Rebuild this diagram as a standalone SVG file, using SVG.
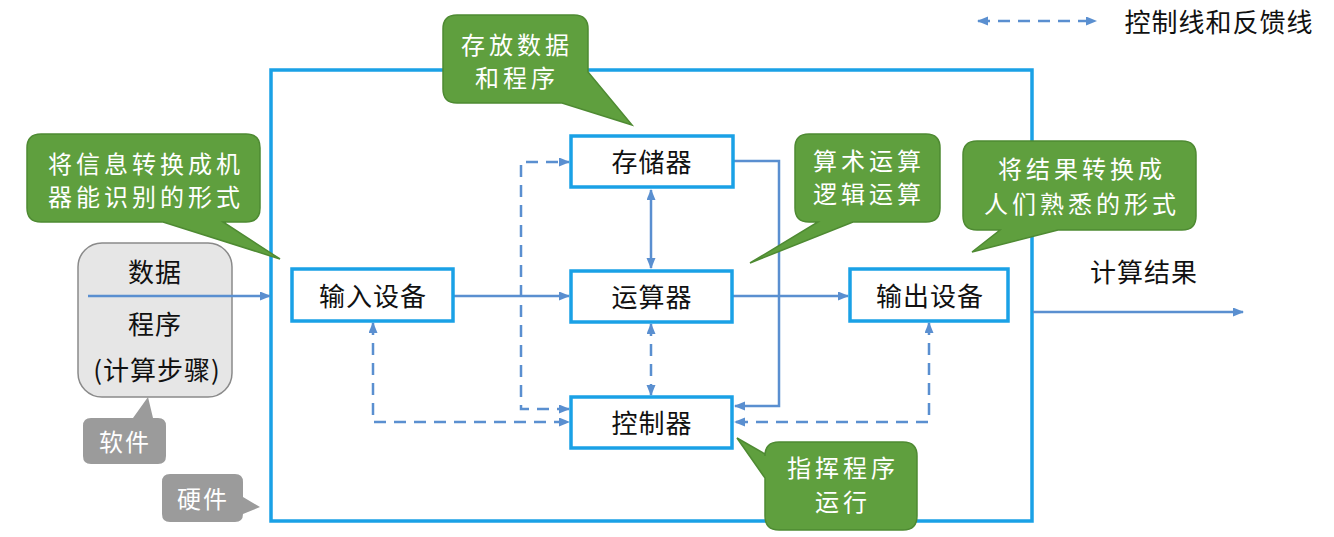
<svg xmlns="http://www.w3.org/2000/svg" width="1334" height="537" viewBox="0 0 1334 537">
<style>
text{font-family:"Noto Sans CJK SC","Noto Sans",sans-serif;dominant-baseline:central;text-anchor:middle}
.node{fill:#fff;stroke:#1aa1e6;stroke-width:3.5}
.nt{font-size:26px;fill:#111;letter-spacing:1px}
.conn{fill:none;stroke:#5a8fd0;stroke-width:2.5}
.dash{stroke-dasharray:12 8}
.green{fill:#5f9f3e;stroke:#4e8a32;stroke-width:1.5}
.gt{font-size:24px;fill:#fff;letter-spacing:4px}
.gray{fill:#9b9b9b}
.wt{font-size:24px;fill:#fff;letter-spacing:2px}
</style>
<defs>
<marker id="ah" markerUnits="userSpaceOnUse" markerWidth="12" markerHeight="10" refX="10" refY="4.5" orient="auto-start-reverse">
<path d="M0,0 L11,4.5 L0,9 z" fill="#5a8fd0"/>
</marker>
</defs>

<g id="outer">
<rect x="271" y="70" width="761" height="451" fill="none" stroke="#1aa1e6" stroke-width="3.5"/>
</g>

<g id="software-box">
<rect x="78" y="243" width="154" height="154" rx="24" fill="#e6e6e6" stroke="#8a8a8a" stroke-width="1.5"/>
<text class="nt" x="155" y="270">数据</text>
<text class="nt" x="155" y="322">程序</text>
<text class="nt" x="157" y="368">(计算步骤)</text>
</g>

<g id="connectors">
<line class="conn" x1="88" y1="296" x2="270" y2="296" marker-end="url(#ah)"/>
<line class="conn" x1="453" y1="296" x2="569" y2="296" marker-end="url(#ah)"/>
<line class="conn" x1="732" y1="296" x2="848" y2="296" marker-end="url(#ah)"/>
<line class="conn" x1="1033" y1="312" x2="1243" y2="312" marker-end="url(#ah)"/>
<polyline class="conn" points="734,161 779,161 779,406 735,406" marker-end="url(#ah)"/>
<line class="conn" x1="651" y1="190" x2="651" y2="268" marker-start="url(#ah)" marker-end="url(#ah)"/>
<line class="conn dash" x1="651" y1="324" x2="651" y2="395" marker-start="url(#ah)" marker-end="url(#ah)"/>
<polyline class="conn dash" points="569,409 521,409 521,162 569,162" marker-start="url(#ah)" marker-end="url(#ah)"/>
<polyline class="conn dash" points="373,323 373,422 569,422" marker-start="url(#ah)" marker-end="url(#ah)"/>
<polyline class="conn dash" points="929,323 929,422 735,422" marker-start="url(#ah)" marker-end="url(#ah)"/>
</g>

<g id="legend">
<line class="conn dash" x1="978" y1="21" x2="1096" y2="21" marker-start="url(#ah)" marker-end="url(#ah)"/>
<text x="1219" y="20" style="font-size:26px;fill:#111;letter-spacing:1px">控制线和反馈线</text>
</g>

<g id="memory"><rect class="node" x="571" y="136" width="162" height="51"/><text class="nt" x="652" y="160">存储器</text></g>
<g id="alu"><rect class="node" x="571" y="271" width="161" height="51"/><text class="nt" x="652" y="295">运算器</text></g>
<g id="control"><rect class="node" x="571" y="397" width="161" height="51"/><text class="nt" x="652" y="421">控制器</text></g>
<g id="input"><rect class="node" x="292" y="269" width="161" height="52"/><text class="nt" x="373" y="294">输入设备</text></g>
<g id="output"><rect class="node" x="850" y="269" width="158" height="52"/><text class="nt" x="930" y="294">输出设备</text></g>

<g id="result-label"><text class="nt" x="1144" y="270">计算结果</text></g>

<g id="callout-input">
<path class="green" d="M41,134 H246 Q260,134 260,148 V208 Q260,222 246,222 H223 L280,259 L163,222 H41 Q27,222 27,208 V148 Q27,134 41,134 Z"/>
<text class="gt" x="146" y="162">将信息转换成机</text>
<text class="gt" x="146" y="195">器能识别的形式</text>
</g>
<g id="callout-memory">
<path class="green" d="M457,15 H574 Q588,15 588,29 V72 L632,125 L562,103 H457 Q443,103 443,89 V29 Q443,15 457,15 Z"/>
<text class="gt" x="517" y="43">存放数据</text>
<text class="gt" x="517" y="76">和程序</text>
</g>
<g id="callout-alu">
<path class="green" d="M809,134 H926 Q940,134 940,148 V208 Q940,222 926,222 H853 L750,263 L818,222 H809 Q795,222 795,208 V148 Q795,134 809,134 Z"/>
<text class="gt" x="869" y="159">算术运算</text>
<text class="gt" x="869" y="192">逻辑运算</text>
</g>
<g id="callout-output">
<path class="green" d="M977,141 H1182 Q1196,141 1196,155 V216 Q1196,230 1182,230 H1058 L972,252 L1000,230 H977 Q963,230 963,216 V155 Q963,141 977,141 Z"/>
<text class="gt" x="1082" y="167">将结果转换成</text>
<text class="gt" x="1082" y="202">人们熟悉的形式</text>
</g>
<g id="callout-control">
<path class="green" d="M779,442 H903 Q917,442 917,456 V516 Q917,530 903,530 H779 Q765,530 765,516 V478 L737,438 L765,454 V456 Q765,442 779,442 Z"/>
<text class="gt" x="843" y="466">指挥程序</text>
<text class="gt" x="843" y="500">运行</text>
</g>

<g id="tag-software">
<path class="gray" d="M91,418 H133 L148,397 L153,418 H158 Q166,418 166,426 V456 Q166,464 158,464 H91 Q83,464 83,456 V426 Q83,418 91,418 Z"/>
<text class="wt" x="125" y="440">软件</text>
</g>
<g id="tag-hardware">
<path class="gray" d="M170,474 H235 Q243,474 243,482 V497 L260,507 L243,514 Q243,522 235,522 H170 Q162,522 162,514 V482 Q162,474 170,474 Z"/>
<text class="wt" x="203" y="497">硬件</text>
</g>
</svg>
